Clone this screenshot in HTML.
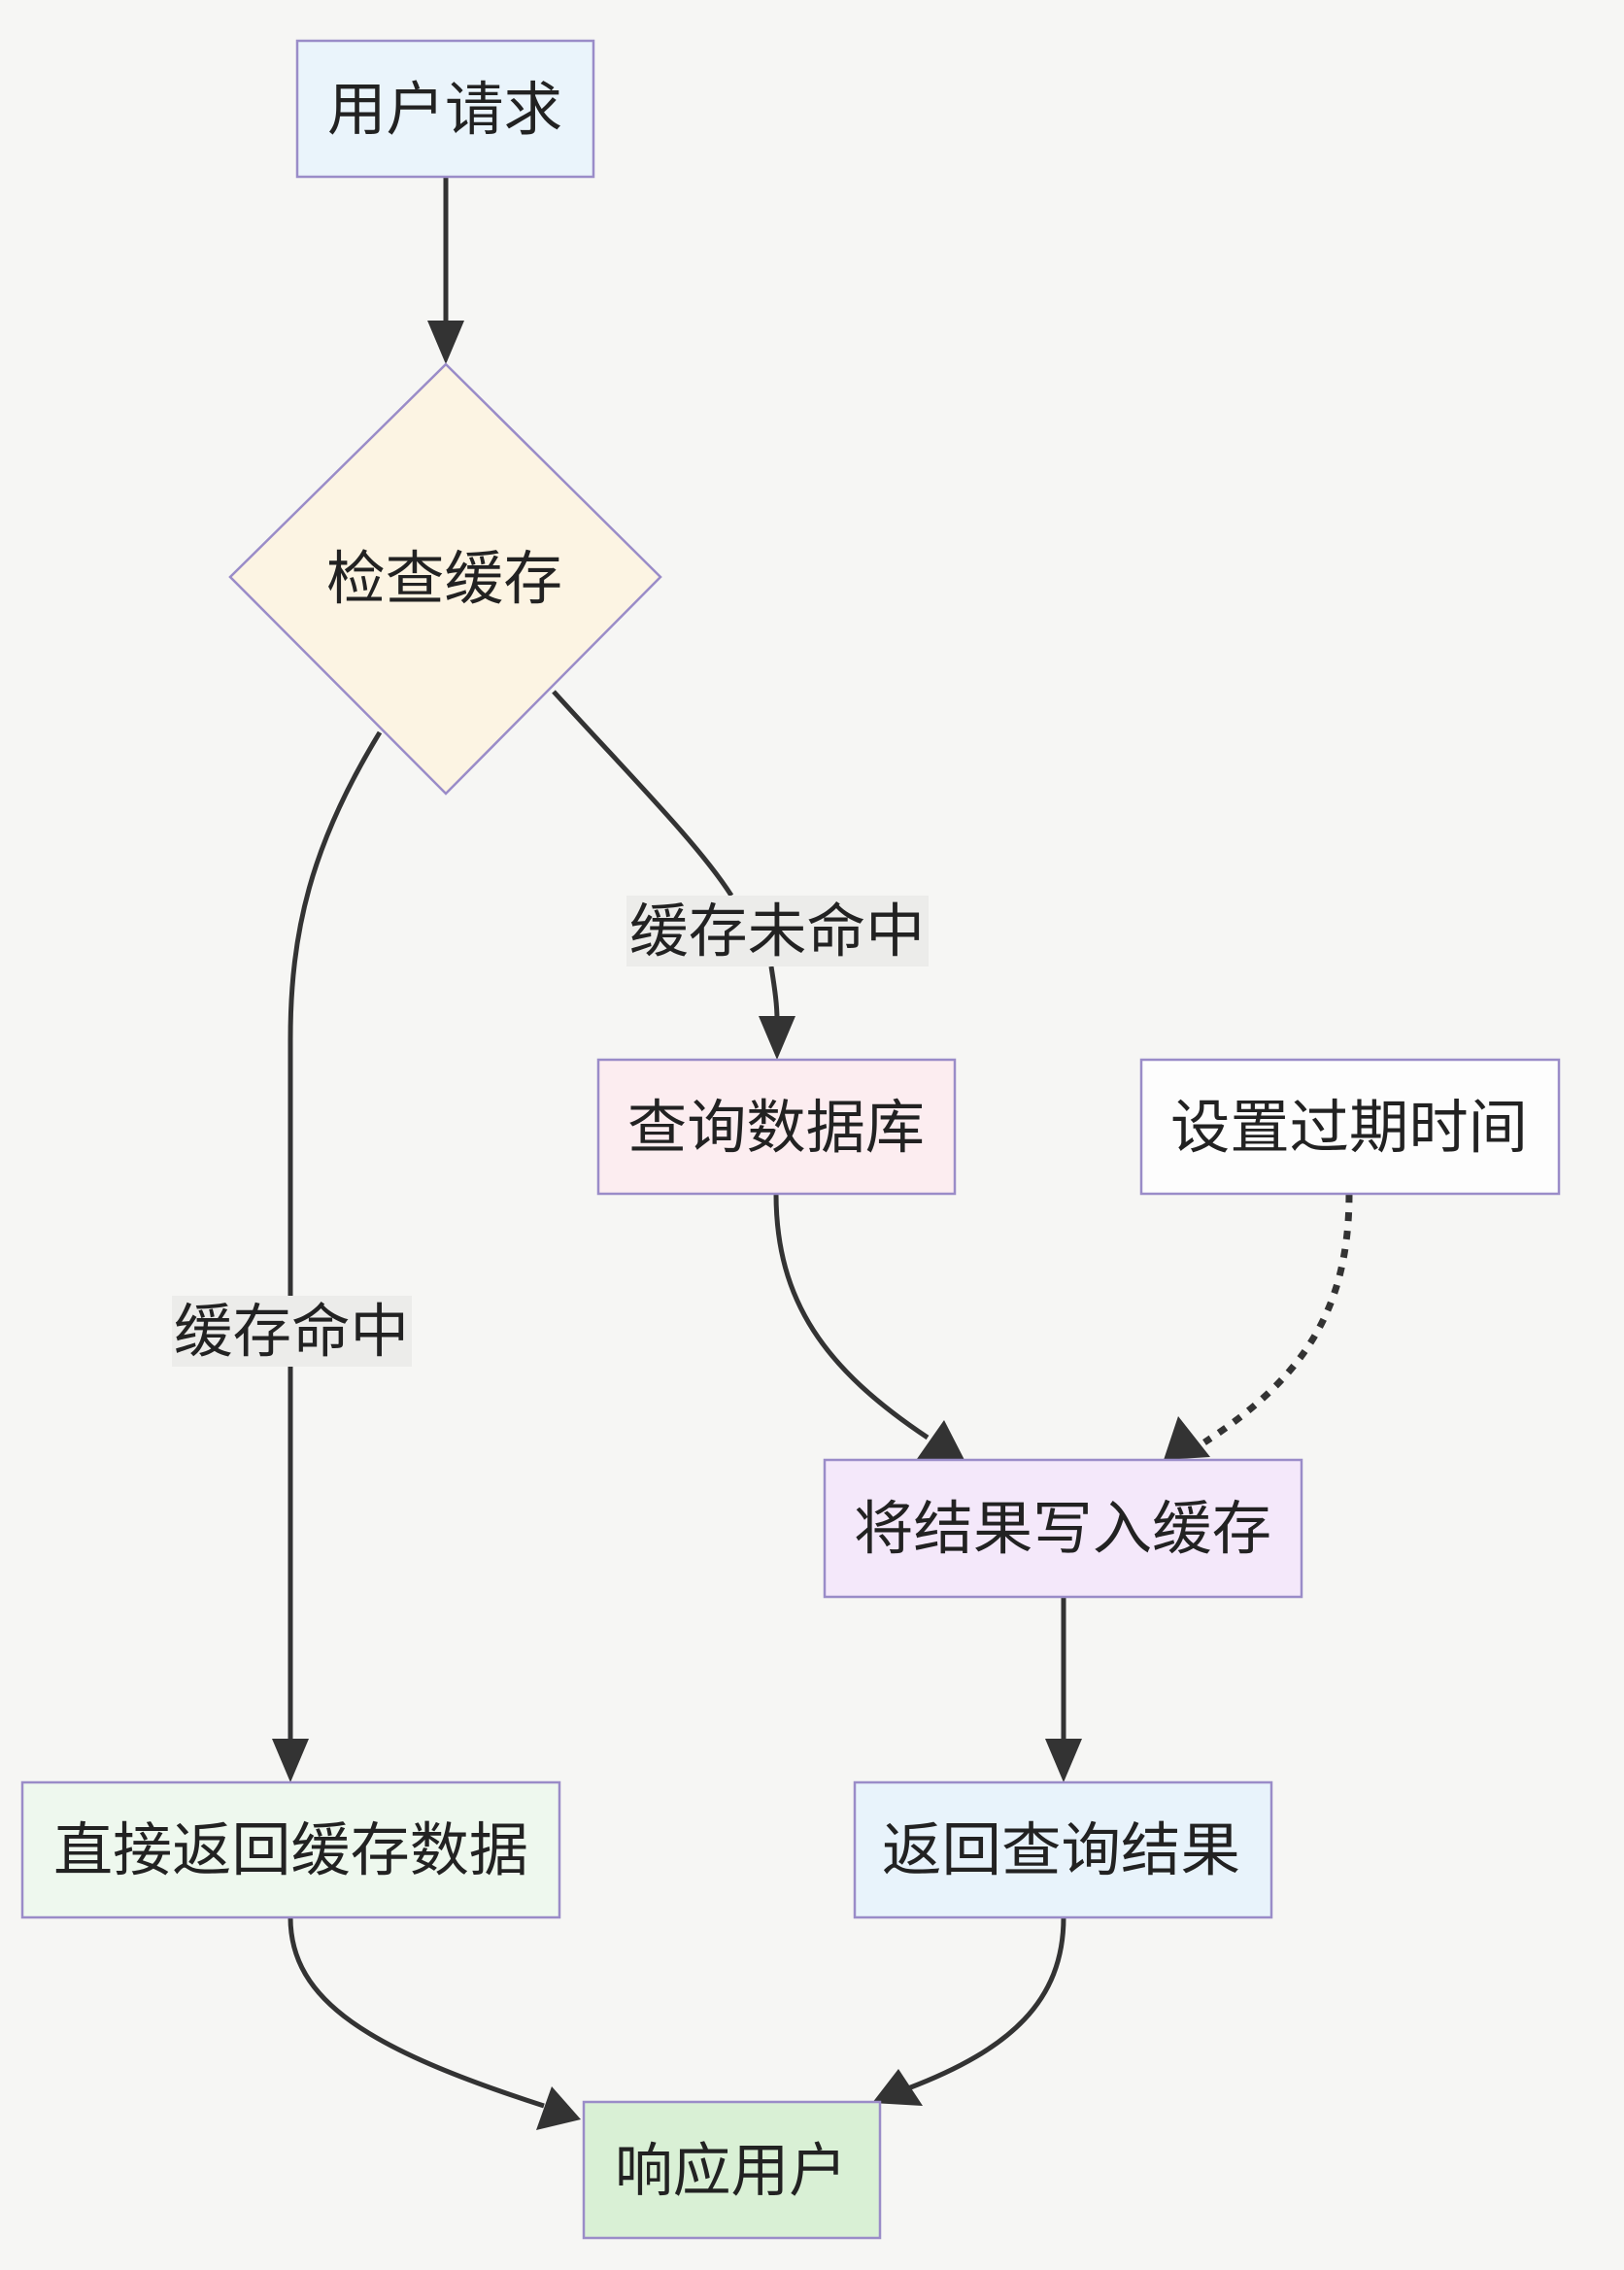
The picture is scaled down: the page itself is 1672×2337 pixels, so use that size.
<!DOCTYPE html>
<html><head><meta charset="utf-8"><style>
html,body{margin:0;padding:0;background:#f6f6f4;}
svg{display:block;}
text{font-family:"Liberation Sans","Noto Sans CJK SC",sans-serif;fill:#222;font-size:60px;}
</style></head><body>
<svg width="1672" height="2337" viewBox="0 0 1672 2337" xmlns="http://www.w3.org/2000/svg">
<rect width="1672" height="2337" fill="#f6f6f4"/>
<g fill="none" stroke="#333" stroke-width="5">
<line x1="459" y1="182" x2="459" y2="340"/>
<path d="M391 754 C320 870 299 960 299 1070 L299 1334"/>
<line x1="299" y1="1407" x2="299" y2="1795"/>
<path d="M570 712 C650 800 720 870 753 922"/>
<path d="M794 995 C798 1020 800 1035 800 1050"/>
<path d="M799 1229 C799 1340 850 1410 955 1480"/>
<path d="M1389 1229 C1389 1350 1340 1420 1240 1485" stroke-width="7" stroke-dasharray="9 10"/>
<line x1="1095" y1="1644" x2="1095" y2="1795"/>
<path d="M299 1974 C299 2060 380 2110 560 2168"/>
<path d="M1095 1974 C1095 2060 1040 2110 935 2150"/>
</g>
<g fill="#333">
<polygon points="459,375 440,330 478,330"/>
<polygon points="800,1091 781,1046 819,1046"/>
<polygon points="299,1835 280,1790 318,1790"/>
<polygon points="1095,1835 1076,1790 1114,1790"/>
<polygon points="993,1503 944,1502 972,1462"/>
<polygon points="1198,1503 1213,1458 1246,1500"/>
<polygon points="598,2182 552,2193 568,2148"/>
<polygon points="898,2165 925,2130 950,2168"/>
</g>
<g stroke="#9a8cc8" stroke-width="2.5">
<rect x="306" y="42" width="305" height="140" fill="#eaf4fb"/>
<polygon points="459,375 680,594 459,817 237,594" fill="#fcf4e3"/>
<rect x="616" y="1091" width="367" height="138" fill="#fcedf0"/>
<rect x="1175" y="1091" width="430" height="138" fill="#fdfdfd"/>
<rect x="849" y="1503" width="491" height="141" fill="#f4e8fa"/>
<rect x="23" y="1835" width="553" height="139" fill="#eef8ee"/>
<rect x="880" y="1835" width="429" height="139" fill="#e8f3fb"/>
<rect x="601" y="2164" width="305" height="140" fill="#d9f0d5"/>
</g>
<rect x="645" y="922" width="311" height="73" fill="#ececea"/>
<rect x="177" y="1334" width="247" height="73" fill="#ececea"/>
<g dominant-baseline="central">
<text x="337" y="113" textLength="242" lengthAdjust="spacingAndGlyphs">用户请求</text>
<text x="336" y="596" textLength="243" lengthAdjust="spacingAndGlyphs">检查缓存</text>
<text x="648" y="959" textLength="304" lengthAdjust="spacingAndGlyphs">缓存未命中</text>
<text x="646" y="1161" textLength="306" lengthAdjust="spacingAndGlyphs">查询数据库</text>
<text x="1205" y="1161" textLength="368" lengthAdjust="spacingAndGlyphs">设置过期时间</text>
<text x="179" y="1371" textLength="242" lengthAdjust="spacingAndGlyphs">缓存命中</text>
<text x="879" y="1574" textLength="430" lengthAdjust="spacingAndGlyphs">将结果写入缓存</text>
<text x="55" y="1905" textLength="489" lengthAdjust="spacingAndGlyphs">直接返回缓存数据</text>
<text x="908" y="1905" textLength="369" lengthAdjust="spacingAndGlyphs">返回查询结果</text>
<text x="633" y="2235" textLength="239" lengthAdjust="spacingAndGlyphs">响应用户</text>
</g>
</svg>
</body></html>
